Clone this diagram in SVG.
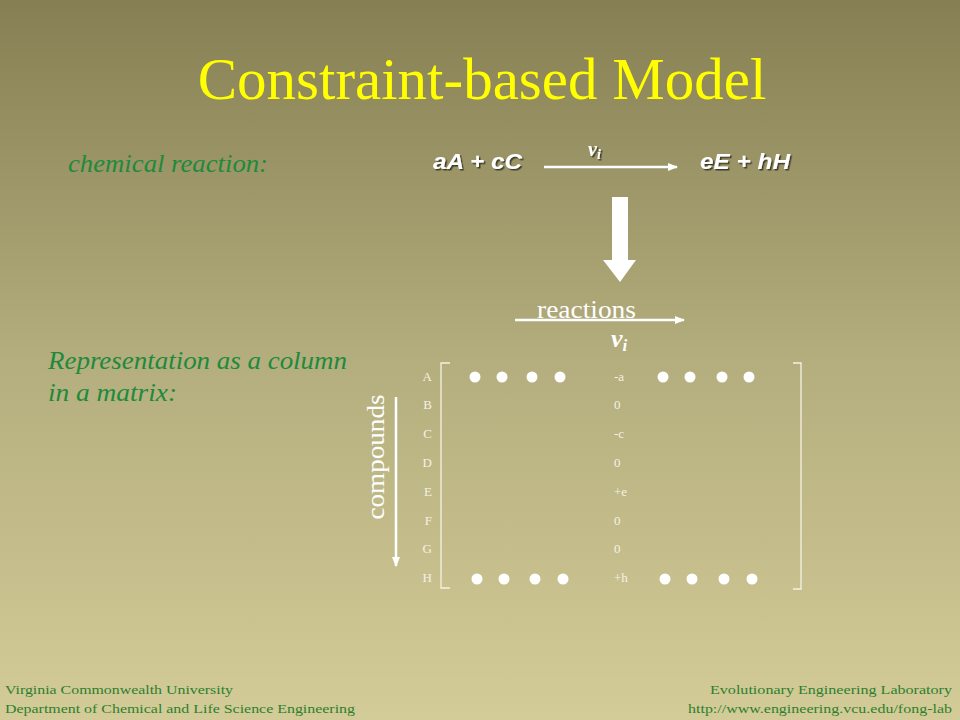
<svg xmlns="http://www.w3.org/2000/svg" width="960" height="720" viewBox="0 0 960 720">
<defs>
<linearGradient id="bg" x1="0" y1="0" x2="0" y2="1">
<stop offset="0" stop-color="#857F53"/>
<stop offset="0.5" stop-color="#B4AD7D"/>
<stop offset="1" stop-color="#D3CC98"/>
</linearGradient>
<marker id="ah" markerWidth="10" markerHeight="8" refX="9" refY="4" orient="auto" markerUnits="userSpaceOnUse">
<path d="M0,0 L10,4 L0,8 Z" fill="#FFFFFF"/>
</marker>
<filter id="sh" x="-10%" y="-20%" width="130%" height="150%">
<feDropShadow dx="1.5" dy="1.5" stdDeviation="0.3" flood-color="#000000" flood-opacity="0.6"/>
</filter>
</defs>
<style>
.serif{font-family:"Liberation Serif","Times New Roman",serif}
.green{fill:#1E8A3C;font-family:"Liberation Serif","Times New Roman",serif;font-style:italic;font-size:25px}
.eq{fill:#FFFFFF;font-family:"Liberation Sans",Arial,sans-serif;font-weight:bold;font-style:italic;font-size:22px}
.row{fill:#F4F2E4;font-family:"Liberation Serif","Times New Roman",serif;font-size:13px}
.foot{fill:#2D7F2D;font-family:"Liberation Serif","Times New Roman",serif;font-size:13px}
.dot{fill:#FFFFFF}
.wl{stroke:#FFFFFF;stroke-width:2.5;fill:none}
.br{stroke:#F4F2E4;stroke-width:1.3;fill:none}
</style>
<rect width="960" height="720" fill="url(#bg)"/>
<g id="title"><text x="482" y="99" text-anchor="middle" class="serif" font-size="59" fill="#FFFF00">Constraint-based Model</text></g>
<g id="chem-label"><text x="68" y="172" class="green" textLength="200" lengthAdjust="spacingAndGlyphs">chemical reaction:</text></g>
<g id="reactants"><text x="433" y="169" class="eq" filter="url(#sh)" textLength="89" lengthAdjust="spacingAndGlyphs">aA + cC</text></g>
<g id="products"><text x="700" y="169" class="eq" filter="url(#sh)" textLength="90" lengthAdjust="spacingAndGlyphs">eE + hH</text></g>
<g id="flux-top"><text x="588" y="156" class="serif" font-size="20" font-style="italic" font-weight="bold" fill="#FFFFFF" filter="url(#sh)">v<tspan font-size="14" dy="3">i</tspan></text></g>
<g id="rep-label"><text x="48" y="369" class="green" textLength="299" lengthAdjust="spacingAndGlyphs">Representation as a column</text><text x="48" y="401" class="green" textLength="129" lengthAdjust="spacingAndGlyphs">in a matrix:</text></g>
<g id="big-arrow"><path d="M612,197 L628,197 L628,260 L636,260 L620,282 L603,260 L612,260 Z" fill="#FFFFFF"/></g>
<g id="reactions-label"><text x="537" y="318" class="serif" font-size="25" fill="#FFFFFF" textLength="99" lengthAdjust="spacingAndGlyphs">reactions</text></g>
<g id="flux-col"><text x="611" y="347" class="serif" font-size="26" font-style="italic" font-weight="bold" fill="#FFFFFF">v<tspan font-size="17" dy="4">i</tspan></text></g>
<g id="compounds-label"><text transform="translate(384,457) rotate(-90)" text-anchor="middle" class="serif" font-size="26" fill="#FFFFFF" textLength="125" lengthAdjust="spacingAndGlyphs">compounds</text></g>
<g id="connectors">
<line x1="544" y1="167" x2="677" y2="167" class="wl" marker-end="url(#ah)"/>
<line x1="515" y1="320" x2="684" y2="320" class="wl" marker-end="url(#ah)"/>
<line x1="396" y1="397" x2="396" y2="566" class="wl" marker-end="url(#ah)"/>
</g>
<g id="matrix">
<path d="M450,363 L441,363 L441,588 L450,588" class="br"/>
<path d="M793,363 L801,363 L801,589 L793,589" class="br"/>
<g text-anchor="end">
<text x="432" y="381" class="row">A</text>
<text x="432" y="409" class="row">B</text>
<text x="432" y="438" class="row">C</text>
<text x="432" y="467" class="row">D</text>
<text x="432" y="496" class="row">E</text>
<text x="432" y="525" class="row">F</text>
<text x="432" y="553" class="row">G</text>
<text x="432" y="582" class="row">H</text>
</g>
<text x="614" y="381" class="row">-a</text>
<text x="614" y="409" class="row">0</text>
<text x="614" y="438" class="row">-c</text>
<text x="614" y="467" class="row">0</text>
<text x="614" y="496" class="row">+e</text>
<text x="614" y="525" class="row">0</text>
<text x="614" y="553" class="row">0</text>
<text x="614" y="582" class="row">+h</text>
<circle cx="475" cy="377" r="5.5" class="dot"/><circle cx="502" cy="377" r="5.5" class="dot"/><circle cx="532" cy="377" r="5.5" class="dot"/><circle cx="560" cy="377" r="5.5" class="dot"/>
<circle cx="663" cy="377" r="5.5" class="dot"/><circle cx="690" cy="377" r="5.5" class="dot"/><circle cx="722" cy="377" r="5.5" class="dot"/><circle cx="749" cy="377" r="5.5" class="dot"/>
<circle cx="477" cy="579" r="5.5" class="dot"/><circle cx="504" cy="579" r="5.5" class="dot"/><circle cx="535" cy="579" r="5.5" class="dot"/><circle cx="563" cy="579" r="5.5" class="dot"/>
<circle cx="665" cy="579" r="5.5" class="dot"/><circle cx="692" cy="579" r="5.5" class="dot"/><circle cx="724" cy="579" r="5.5" class="dot"/><circle cx="752" cy="579" r="5.5" class="dot"/>
</g>
<g id="footer">
<text x="5" y="694" class="foot" textLength="228" lengthAdjust="spacingAndGlyphs">Virginia Commonwealth University</text>
<text x="5" y="713" class="foot" textLength="350" lengthAdjust="spacingAndGlyphs">Department of Chemical and Life Science Engineering</text>
<text x="952" y="694" class="foot" text-anchor="end" textLength="242" lengthAdjust="spacingAndGlyphs">Evolutionary Engineering Laboratory</text>
<text x="952" y="713" class="foot" text-anchor="end" textLength="264" lengthAdjust="spacingAndGlyphs">http://www.engineering.vcu.edu/fong-lab</text>
</g>
</svg>
